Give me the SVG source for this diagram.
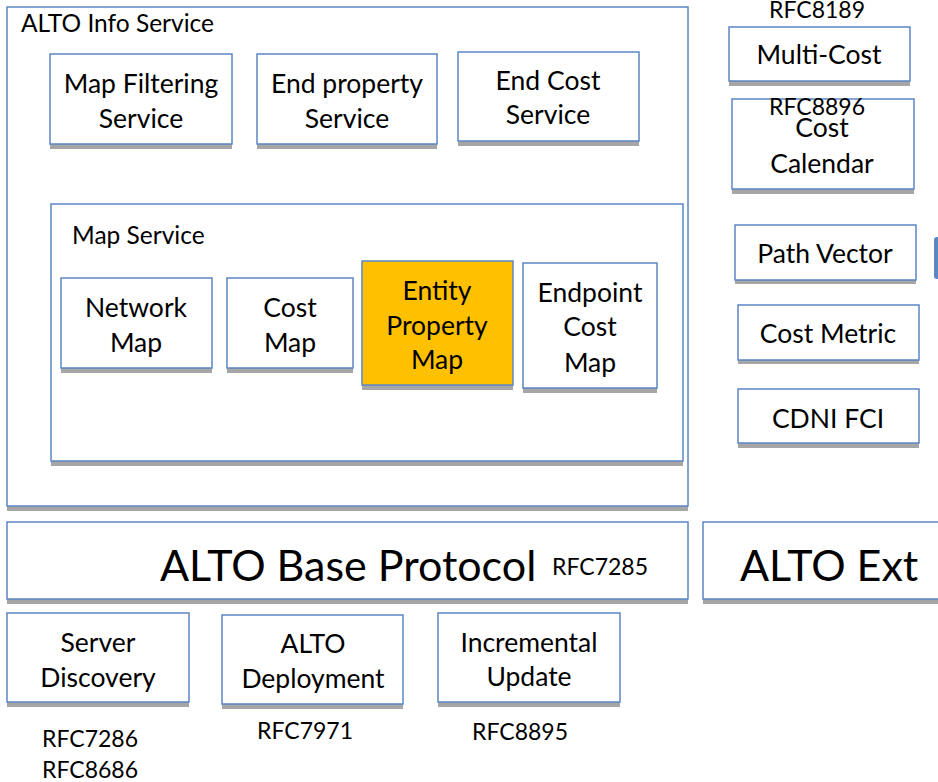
<svg xmlns="http://www.w3.org/2000/svg" width="938" height="782" viewBox="0 0 938 782">
<defs>
<style>
.box{fill:#ffffff;stroke:#5b87c5;stroke-width:1.5}
.hl{fill:#ffc000;stroke:#5b87c5;stroke-width:1.5}
.sh{fill:#a6a6a6}
text{font-family:Lato,"Open Sans","Liberation Sans",sans-serif;fill:#000000}
.t{font-size:26.5px;text-anchor:middle}
.l{font-size:24.5px}
.big{font-size:43px}
.rfc{font-size:23px}
</style>
</defs>
<rect width="938" height="782" fill="#ffffff"/>

<g id="alto-info-service">
<rect class="sh" x="7" y="11" width="681" height="500"/>
<rect class="box" x="7" y="7" width="681" height="499"/>
<text class="l" x="21" y="32">ALTO Info Service</text>
</g>

<g id="map-filtering">
<rect class="sh" x="50" y="58" width="182" height="91"/>
<rect class="box" x="50" y="54" width="182" height="90"/>
<text class="t" x="141" y="93">Map Filtering</text>
<text class="t" x="141" y="128">Service</text>
</g>

<g id="end-property">
<rect class="sh" x="257" y="58" width="180" height="91"/>
<rect class="box" x="257" y="54" width="180" height="90"/>
<text class="t" x="347" y="93">End property</text>
<text class="t" x="347" y="128">Service</text>
</g>

<g id="end-cost">
<rect class="sh" x="458" y="56" width="181" height="90"/>
<rect class="box" x="458" y="52" width="181" height="89"/>
<text class="t" x="548" y="90">End Cost</text>
<text class="t" x="548" y="124">Service</text>
</g>

<g id="map-service">
<rect class="sh" x="51" y="208" width="632" height="258"/>
<rect class="box" x="51" y="204" width="632" height="257"/>
<text class="l" x="72" y="244">Map Service</text>
</g>

<g id="network-map">
<rect class="sh" x="61" y="282" width="151" height="91"/>
<rect class="box" x="61" y="278" width="151" height="90"/>
<text class="t" x="136" y="317">Network</text>
<text class="t" x="136" y="352">Map</text>
</g>

<g id="cost-map">
<rect class="sh" x="227" y="282" width="126" height="91"/>
<rect class="box" x="227" y="278" width="126" height="90"/>
<text class="t" x="290" y="317">Cost</text>
<text class="t" x="290" y="352">Map</text>
</g>

<g id="entity-property-map">
<rect class="sh" x="362" y="265" width="151" height="125"/>
<rect class="hl" x="362" y="261" width="151" height="124"/>
<text class="t" x="437" y="300">Entity</text>
<text class="t" x="437" y="335">Property</text>
<text class="t" x="437" y="369">Map</text>
</g>

<g id="endpoint-cost-map">
<rect class="sh" x="523" y="267" width="134" height="126"/>
<rect class="box" x="523" y="263" width="134" height="125"/>
<text class="t" x="590" y="302">Endpoint</text>
<text class="t" x="590" y="336">Cost</text>
<text class="t" x="590" y="372">Map</text>
</g>

<g id="multi-cost">
<text class="rfc" x="817" y="18" text-anchor="middle">RFC8189</text>
<rect class="sh" x="729" y="31" width="181" height="55"/>
<rect class="box" x="729" y="27" width="181" height="54"/>
<text class="t" x="819" y="64">Multi-Cost</text>
</g>

<g id="cost-calendar">
<rect class="sh" x="732" y="103" width="182" height="91"/>
<rect class="box" x="732" y="99" width="182" height="90"/>
<text class="rfc" x="817" y="115" text-anchor="middle">RFC8896</text>
<text class="t" x="822" y="137">Cost</text>
<text class="t" x="822" y="173">Calendar</text>
</g>

<g id="path-vector">
<rect class="sh" x="735" y="229" width="181" height="55"/>
<rect class="box" x="735" y="225" width="181" height="55"/>
<text class="t" x="825" y="263">Path Vector</text>
</g>

<g id="partial-shape">
<rect x="934" y="237" width="12" height="42" rx="3" fill="#5b87c5"/>
</g>

<g id="cost-metric">
<rect class="sh" x="738" y="309" width="181" height="55"/>
<rect class="box" x="738" y="305" width="181" height="55"/>
<text class="t" x="828" y="343">Cost Metric</text>
</g>

<g id="cdni-fci">
<rect class="sh" x="738" y="393" width="181" height="55"/>
<rect class="box" x="738" y="389" width="181" height="54"/>
<text class="t" x="828" y="428">CDNI FCI</text>
</g>

<g id="alto-base-protocol">
<rect class="sh" x="7" y="526" width="681" height="78"/>
<rect class="box" x="7" y="522" width="681" height="77"/>
<text class="big" x="160" y="581">ALTO Base Protocol</text>
<text class="rfc" x="552" y="575">RFC7285</text>
</g>

<g id="alto-ext">
<rect class="sh" x="703" y="526" width="250" height="78"/>
<rect class="box" x="703" y="522" width="250" height="77"/>
<text class="big" x="740" y="581">ALTO Ext</text>
</g>

<g id="server-discovery">
<rect class="sh" x="7" y="617" width="182" height="90"/>
<rect class="box" x="7" y="613" width="182" height="89"/>
<text class="t" x="98" y="652">Server</text>
<text class="t" x="98" y="687">Discovery</text>
<text class="rfc" x="42" y="747">RFC7286</text>
<text class="rfc" x="42" y="778">RFC8686</text>
</g>

<g id="alto-deployment">
<rect class="sh" x="222" y="619" width="181" height="90"/>
<rect class="box" x="222" y="615" width="181" height="89"/>
<text class="t" x="313" y="653">ALTO</text>
<text class="t" x="313" y="688">Deployment</text>
<text class="rfc" x="257" y="739">RFC7971</text>
</g>

<g id="incremental-update">
<rect class="sh" x="438" y="617" width="182" height="90"/>
<rect class="box" x="438" y="613" width="182" height="89"/>
<text class="t" x="529" y="652">Incremental</text>
<text class="t" x="529" y="686">Update</text>
<text class="rfc" x="472" y="740">RFC8895</text>
</g>

<g id="connectors"></g>
</svg>
